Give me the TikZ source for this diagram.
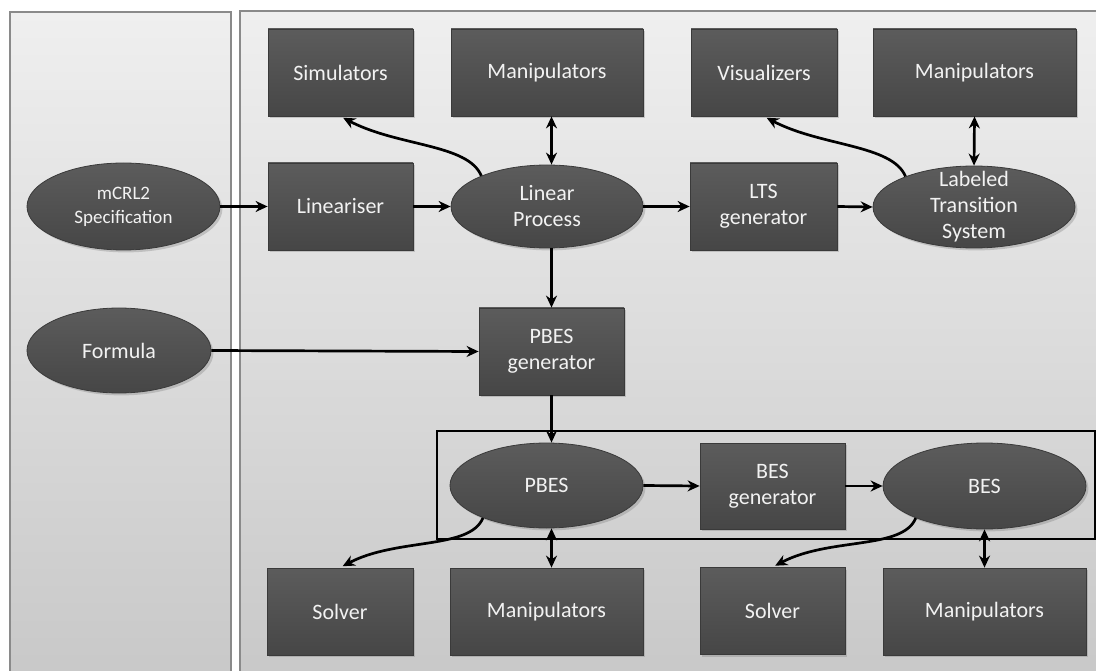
\documentclass[tikz,border=0pt]{standalone}
\usepackage{fontspec}
\setmainfont{Carlito}
\usepackage{xcolor}
\usepackage{tikz}
\usetikzlibrary{positioning,shapes.geometric,shadows,arrows.meta}

\definecolor{nodetop}{HTML}{5C5C5C}
\definecolor{nodebottom}{HTML}{464646}
\definecolor{nodeline}{HTML}{3A3A3A}
\definecolor{paneltop}{HTML}{EFEFEF}
\definecolor{panelbottom}{HTML}{C8C8C8}
\definecolor{panelline}{HTML}{8A8A8A}
\definecolor{labeltext}{HTML}{F2F2F2}

\begin{document}
\begin{tikzpicture}[
        x = 0.5pt, y = 0.5pt,
        font = \fontsize{11}{13}\selectfont,
    ]
    \tikzstyle{panel} = [draw=panelline, line width=0.6pt, top color=paneltop, bottom color=panelbottom];
    \tikzstyle{toolbox} = [rectangle, draw=nodeline, line width=0.4pt, top color=nodetop, bottom color=nodebottom, text=labeltext, align=center, inner sep=0pt, minimum height=43.5pt, drop shadow={opacity=0.35, shadow xshift=1.2pt, shadow yshift=-1.2pt}];
    \tikzstyle{dataoval} = [ellipse, draw=nodeline, line width=0.4pt, top color=nodetop, bottom color=nodebottom, text=labeltext, align=center, inner sep=0pt, drop shadow={opacity=0.35, shadow xshift=1.2pt, shadow yshift=-1.2pt}];
    \tikzstyle{flow} = [line width=1.35pt, -{Stealth[length=6pt, width=5.5pt]}];
    \tikzstyle{bothflow} = [line width=1.35pt, {Stealth[length=6pt, width=5.5pt]}-{Stealth[length=6pt, width=5.5pt]}];

    \useasboundingbox (0,0) rectangle (1096,670);
    \clip (0,0) rectangle (1096,670);
    \path [panel] (10,658) rectangle (231,-10);
    \path [panel] (240,659) rectangle (1110,-10);
    \draw [line width=1pt] (437,239) rectangle (1095,131);

    \node [toolbox, minimum width=72.5pt] (sim) at (340.5,597.5) {Simulators};
    \node [toolbox, minimum width=96pt] (manA) at (547,597.5) {Manipulators};
    \node [toolbox, minimum width=73pt] (vis) at (764,597.5) {Visualizers};
    \node [toolbox, minimum width=101.5pt] (manB) at (974.5,597.5) {Manipulators};

    \node [dataoval, minimum width=96.5pt, minimum height=43.5pt, font=\fontsize{9.5}{12}\selectfont] (spec) at (123.5,463.5) {mCRL2\\Specification};
    \node [toolbox, minimum width=72.5pt] (lin) at (340.5,463.5) {Lineariser};
    \node [dataoval, minimum width=96pt, minimum height=41.5pt] (lp) at (547,463.5) {Linear\\Process};
    \node [toolbox, minimum width=73.5pt] (ltsgen) at (763.5,463.5) {LTS\\generator};
    \node [dataoval, minimum width=101pt, minimum height=41pt, inner ysep=-6pt] (lts) at (974,463) {Labeled\\Transition\\System};

    \node [dataoval, minimum width=92pt, minimum height=42.5pt] (formula) at (119,319.5) {Formula};
    \node [toolbox, minimum width=72.5pt] (pbesgen) at (551.5,318.5) {PBES\\generator};

    \node [dataoval, minimum width=96.5pt, minimum height=42.5pt] (pbes) at (546.5,184.5) {PBES};
    \node [toolbox, minimum width=72.5pt, minimum height=43pt] (besgen) at (772.5,184) {BES\\generator};
    \node [dataoval, minimum width=101.5pt, minimum height=43pt] (bes) at (984.5,184) {BES};

    \node [toolbox, minimum width=73pt] (solA) at (340,58.5) {Solver};
    \node [toolbox, minimum width=96.5pt] (manC) at (546.5,58.5) {Manipulators};
    \node [toolbox, minimum width=72.5pt] (solB) at (772.5,59) {Solver};
    \node [toolbox, minimum width=101.5pt] (manD) at (984.5,58.5) {Manipulators};

    \draw [flow] (spec.east) -- (lin.west);
    \draw [flow] (lin.east) -- (lp.west);
    \draw [flow] (lp.east) -- (ltsgen.west);
    \draw [flow] (ltsgen.east) -- (lts.west);
    \draw [flow] (formula.east) -- (pbesgen.west);
    \draw [flow] (lp.south -| pbesgen) -- (pbesgen.north);
    \draw [flow] (pbesgen.south) -- (pbes.north -| pbesgen);
    \draw [flow] (pbes.east) -- (besgen.west);
    \draw [flow] (besgen.east) -- (bes.west);
    \draw [bothflow] (manA.south -| pbesgen) -- (lp.north -| pbesgen);
    \draw [bothflow] (manB.south) -- (lts.north);
    \draw [bothflow] (pbes.south -| pbesgen) -- (manC.north -| pbesgen);
    \draw [bothflow] (bes.south) -- (manD.north);
    \draw [flow, shorten >=1.5pt] (lp.155) .. controls +(-13,32) and +(57,-30) .. (sim.south);
    \draw [flow, shorten >=1.5pt] (lts.156) .. controls +(-13,32) and +(57,-30) .. (vis.south);
    \draw [flow, shorten >=1.5pt] (pbes.207) .. controls +(-13,-32) and +(57,30) .. (solA.north);
    \draw [flow, shorten >=1.5pt] (bes.205) .. controls +(-13,-32) and +(57,30) .. (solB.north);
\end{tikzpicture}
\end{document}
